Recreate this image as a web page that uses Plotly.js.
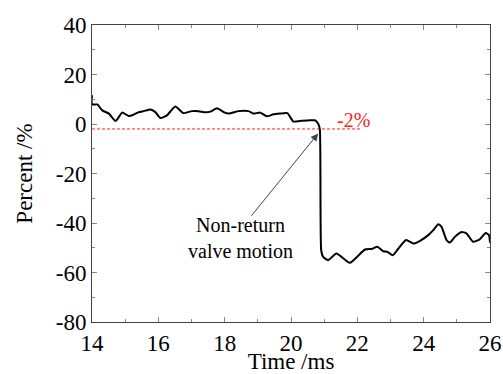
<!DOCTYPE html>
<html>
<head>
<meta charset="utf-8">
<script src="https://cdn.plot.ly/plotly-3.0.1.min.js"></script>
<style>html,body{margin:0;padding:0;background:#fff;}#chart{width:503px;height:374px;}</style>
</head>
<body>
<div id="chart"></div>
<script>
const timeMs = [14.0, 14.0, 14.16, 14.31, 14.51, 14.71, 14.91, 15.11, 15.26, 15.41, 15.56, 15.76, 15.91, 16.06, 16.26, 16.51, 16.76, 17.01, 17.21, 17.42, 17.57, 17.77, 17.97, 18.12, 18.42, 18.72, 18.87, 19.07, 19.27, 19.47, 19.67, 19.89, 20.07, 20.27, 20.57, 20.72, 20.82, 20.87, 20.91, 20.97, 21.12, 21.37, 21.77, 22.23, 22.43, 22.60, 22.78, 22.90, 23.07, 23.24, 23.47, 23.69, 23.89, 24.14, 24.29, 24.44, 24.54, 24.69, 24.79, 24.94, 25.14, 25.29, 25.49, 25.69, 25.87, 25.97, 26.0];
const percent = [11.6, 7.9, 7.9, 5.5, 4.2, 1.2, 4.6, 3.2, 3.8, 4.8, 5.2, 5.9, 4.8, 2.4, 3.5, 7.1, 4.4, 5.2, 5.2, 4.7, 5.0, 6.4, 4.8, 4.2, 5.2, 5.2, 4.2, 4.6, 3.1, 3.9, 4.2, 4.4, 1.0, 1.2, 1.5, 1.5, 0.1, -2.3, -51, -53.7, -55, -52.3, -56.1, -50.7, -50.5, -49.6, -51.4, -51.6, -53, -50.3, -46.9, -48.3, -47.2, -44.9, -42.9, -40.5, -41.6, -46.9, -47.9, -45.6, -43.6, -44.2, -47.6, -46.6, -44.0, -44.9, -48];
const refTime = [14, 22.13];
const refPercent = [-2, -2];
const refLabel = '-2%';
const noteText = 'Non-return<br>valve motion';
const xTicks = [14, 16, 18, 20, 22, 24, 26];
const yTicks = [-80, -60, -40, -20, 0, 20, 40];

const font = 'Liberation Serif, Times New Roman, serif';
const traces = [
  {x: refTime, y: refPercent, mode: 'lines', line: {color: '#ff2020', width: 1, dash: '3px,2px'}, hoverinfo: 'skip'},
  {x: timeMs, y: percent, mode: 'lines', line: {color: '#000', width: 2, shape: 'spline', smoothing: 0.5}}
];
const axisCommon = {
  showgrid: false, zeroline: false, showline: true, linecolor: '#444', linewidth: 1,
  mirror: 'ticks', ticks: 'inside', ticklen: 5, tickcolor: '#888', tickwidth: 1,
  tickfont: {family: font, size: 23, color: '#000'}
};
const layout = {
  width: 503, height: 374,
  margin: {l: 91.5, r: 13, t: 24.5, b: 52},
  showlegend: false,
  paper_bgcolor: '#fff', plot_bgcolor: '#fff',
  xaxis: Object.assign({}, axisCommon, {
    range: [14, 26], tickvals: xTicks, ticktext: xTicks.map(String),
    minor: {dtick: 1, ticks: 'inside', ticklen: 3, tickcolor: '#888'},
    title: {text: 'Time /ms', font: {family: font, size: 23, color: '#000'}, standoff: 0}
  }),
  yaxis: Object.assign({}, axisCommon, {
    range: [-80, 40], tickvals: yTicks, ticktext: yTicks.map(String),
    minor: {dtick: 10, ticks: 'inside', ticklen: 3, tickcolor: '#888'},
    title: {text: 'Percent /%', font: {family: font, size: 23, color: '#000'}, standoff: 16}
  }),
  annotations: [
    {x: 20.82, y: -3.8, ax: 18.77, ay: -37.7, axref: 'x', ayref: 'y', xref: 'x', yref: 'y',
     text: '', showarrow: true, arrowhead: 2, arrowsize: 1.5, arrowwidth: 1, arrowcolor: '#444'},
    {x: 18.47, y: -46.1, xref: 'x', yref: 'y', text: noteText, showarrow: false,
     font: {family: font, size: 20, color: '#000'}, align: 'center'},
    {x: 21.89, y: 1.7, xref: 'x', yref: 'y', text: refLabel, showarrow: false,
     font: {family: font, size: 20, color: '#ff2020'}}
  ]
};
Plotly.newPlot('chart', traces, layout, {displayModeBar: false, staticPlot: true});
</script>
</body>
</html>
